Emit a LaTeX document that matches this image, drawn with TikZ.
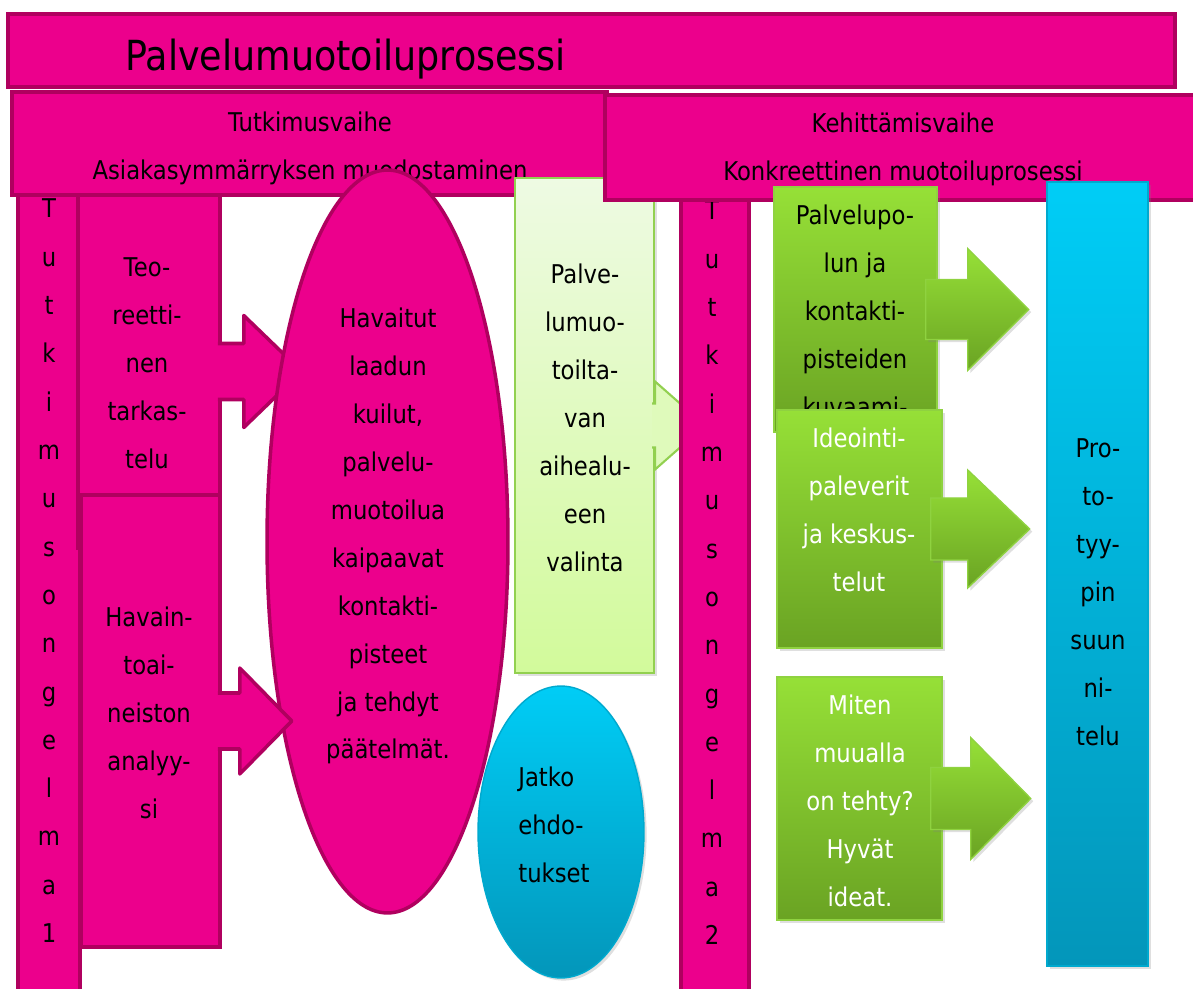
\documentclass[tikz,border=0pt]{standalone}
\usepackage{fontspec}
\setmainfont{DejaVu Sans}[FakeStretch=0.88]
\usetikzlibrary{shapes.geometric,fit,shadows}

\definecolor{magfill}{HTML}{EC008C}
\definecolor{magline}{HTML}{B0005F}
\definecolor{paletop}{HTML}{EEFAE3}
\definecolor{palebot}{HTML}{D2FA9B}
\definecolor{paleline}{HTML}{92D050}
\definecolor{greentop}{HTML}{96E037}
\definecolor{greenbot}{HTML}{6AA323}
\definecolor{greenline}{HTML}{8FD240}
\definecolor{cyantop}{HTML}{00CDF6}
\definecolor{cyanbot}{HTML}{0396BA}
\definecolor{cyanline}{HTML}{00A9CE}

\tikzset{
  every node/.style={font=\fontsize{14.7}{27.3}\selectfont,inner sep=0pt},
  txt/.style={align=center},
  magbox/.style={draw=magline,fill=magfill,line width=2pt},
  magarrow/.style={draw=magline,fill=magfill,line width=2pt,line join=round},
  softshadow/.style={drop shadow={opacity=0.25,shadow xshift=1.5pt,shadow yshift=-1.5pt}},
  palebox/.style={draw=paleline,line width=1.2pt,top color=paletop,bottom color=palebot,softshadow},
  palearrow/.style={draw=paleline,fill=palebot!55!paletop,line width=1.2pt},
  greenbox/.style={draw=greenline,line width=0.8pt,top color=greentop,bottom color=greenbot,softshadow},
  greenarrow/.style={draw=greenline,line width=0.8pt,top color=greentop,bottom color=greenbot,softshadow},
  cyanbox/.style={draw=cyanline,line width=0.8pt,top color=cyantop,bottom color=cyanbot,softshadow},
}

\begin{document}
\begin{tikzpicture}[x=0.02cm,y=-0.02cm]
\useasboundingbox (0,0) rectangle (1193,989);

% otsikko ja tutkimusvaihe
\node[magbox,fit={(8,14) (1175,87)}] (title) {};
\node[anchor=base west,font=\fontsize{23.6}{28}\selectfont] (titletext) at (125,71) {Palvelumuotoiluprosessi};
\node[magbox,fit={(12,92) (607,195)}] (phase1) {};
\node[txt] (phase1text) at (310,148) {Tutkimusvaihe\\Asiakasymmärryksen muodostaminen};

\node[magbox,fit={(18,195) (80,1000)}] (prob1) {};
\foreach \ch [count=\i] in {T,u,t,k,i,m,u,s,o,n,g,e,l,m,a,1}
  \node[anchor=base] (prob1-\i) at (49,{218+48.3*(\i-1)}) {\ch};

\node[magbox,fit={(78,195) (220,548)}] (teo) {};
\filldraw[magarrow] (teo.east) ++(-4,-28) -- ++(26,0) -- ++(0,-28) -- ++(58,56) -- ++(-58,56) -- ++(0,-28) -- ++(-26,0);
\node[txt] (teotext) at (147,363) {Teo-\\reetti-\\nen\\tarkas-\\telu};

\node[magbox,ellipse,minimum width=4.82cm,minimum height=14.86cm] (gaps) at (387.5,541.5) {};
\node[txt] (gapstext) at (388,536) {Havaitut\\laadun\\kuilut,\\palvelu-\\muotoilua\\kaipaavat\\kontakti-\\pisteet\\ja tehdyt\\päätelmät.};

\node[magbox,fit={(81,495) (220,947)}] (hav) {};
\filldraw[magarrow] (hav.east) ++(-4,-28) -- ++(22,0) -- ++(0,-25) -- ++(52,53) -- ++(-52,53) -- ++(0,-25) -- ++(-22,0);
\node[txt] (havtext) at (149,713) {Havain-\\toai-\\neiston\\analyy-\\si};

\node[palebox,fit={(515,178) (654,673)}] (aihe) {};
\filldraw[palearrow] (aihe.east) ++(-3,-22) -- ++(3,0) -- ++(0,-22) -- ++(50,44) -- ++(-50,44) -- ++(0,-22) -- ++(-3,0);
\node[txt] (aihetext) at (585,418) {Palve-\\lumuo-\\toilta-\\van\\aihealu-\\een\\valinta};

\node[cyanbox,ellipse,minimum width=3.32cm,minimum height=5.84cm] (jatko) at (561,832) {};
\node[align=left,anchor=west] (jatkotext) at (518,825) {Jatko\\ehdo-\\tukset};

% kehittämisvaihe
\node[magbox,fit={(681,200) (749,1000)}] (prob2) {};
\foreach \ch [count=\i] in {T,u,t,k,i,m,u,s,o,n,g,e,l,m,a,2}
  \node[anchor=base] (prob2-\i) at (712,{220+48.3*(\i-1)}) {\ch};

\node[magbox,fit={(605,95) (1200,200)}] (phase2) {};
\node[txt] (phase2text) at (903,149) {Kehittämisvaihe\\Konkreettinen muotoiluprosessi};

\node[greenbox,fit={(774,187) (937,432)}] (polku) {};
\node[txt] (polkutext) at (855,311) {Palvelupo-\\lun ja\\kontakti-\\pisteiden\\kuvaami-};
\path[greenarrow] (polku.east) ++(-12,-30) -- ++(42,0) -- ++(0,-31) -- ++(61,61) -- ++(-61,61) -- ++(0,-31) -- ++(-42,0) -- cycle;

\node[greenbox,fit={(777,410) (942,648)}] (ideo) {};
\node[txt,text=white] (ideotext) at (859,510) {Ideointi-\\paleverit\\ja keskus-\\telut};
\path[greenarrow] (ideo.east) ++(-12,-31) -- ++(37,0) -- ++(0,-28) -- ++(62,59) -- ++(-62,59) -- ++(0,-28) -- ++(-37,0) -- cycle;

\node[greenbox,fit={(777,677) (942,920)}] (miten) {};
\node[txt,text=white] (mitentext) at (860,801) {Miten\\muualla\\on tehty?\\Hyvät\\ideat.};
\path[greenarrow] (miten.east) ++(-12,-31) -- ++(40,0) -- ++(0,-30) -- ++(60,61) -- ++(-60,61) -- ++(0,-30) -- ++(-40,0) -- cycle;

\node[cyanbox,fit={(1047,182) (1148,966)}] (proto) {};
\node[txt] (prototext) at (1098,592) {Pro-\\to-\\tyy-\\pin\\suun\\ni-\\telu};

\end{tikzpicture}
\end{document}
